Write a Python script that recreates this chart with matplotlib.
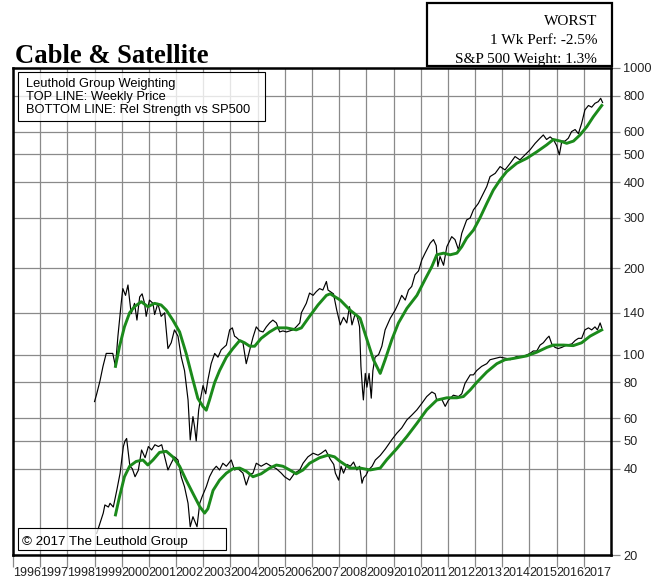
import matplotlib
matplotlib.use("Agg")
import matplotlib.pyplot as plt
from matplotlib.patches import Rectangle
from matplotlib.ticker import NullLocator, FixedLocator

# ---------------- data ----------------
price_years = [1999.00, 1999.08, 1999.20, 1999.31, 1999.43, 1999.67, 1999.77, 1999.86, 1999.98,
               2000.04, 2000.14, 2000.23, 2000.29, 2000.35, 2000.47, 2000.56, 2000.66, 2000.75,
               2000.84, 2000.90, 2001.02, 2001.15, 2001.21, 2001.33, 2001.45, 2001.58, 2001.70,
               2001.82, 2001.94, 2002.07, 2002.19, 2002.31, 2002.44, 2002.52, 2002.62, 2002.68,
               2002.74, 2002.83, 2002.89, 2002.99, 2003.09, 2003.17, 2003.29, 2003.42, 2003.54,
               2003.66, 2003.85, 2003.97, 2004.07, 2004.15, 2004.21, 2004.34, 2004.46, 2004.58,
               2004.71, 2004.83, 2004.95, 2005.07, 2005.20, 2005.32, 2005.44, 2005.56, 2005.69,
               2005.81, 2005.93, 2006.06, 2006.18, 2006.30, 2006.42, 2006.55, 2006.61, 2006.79,
               2006.91, 2007.04, 2007.16, 2007.28, 2007.40, 2007.53, 2007.59, 2007.67, 2007.79,
               2007.91, 2008.04, 2008.16, 2008.28, 2008.38, 2008.47, 2008.59, 2008.67, 2008.75,
               2008.80, 2008.86, 2008.89, 2008.96, 2009.02, 2009.10, 2009.18, 2009.24, 2009.32,
               2009.45, 2009.57, 2009.69, 2009.88, 2010.06, 2010.18, 2010.30, 2010.43, 2010.55,
               2010.67, 2010.79, 2010.92, 2011.04, 2011.16, 2011.35, 2011.47, 2011.57, 2011.63,
               2011.71, 2011.84, 2011.96, 2012.14, 2012.26, 2012.39, 2012.51, 2012.69, 2012.82,
               2012.94, 2013.12, 2013.31, 2013.43, 2013.55, 2013.74, 2013.92, 2014.10, 2014.29,
               2014.47, 2014.65, 2014.84, 2015.02, 2015.21, 2015.39, 2015.51, 2015.63, 2015.76,
               2015.88, 2016.00, 2016.10, 2016.19, 2016.31, 2016.43, 2016.55, 2016.68, 2016.80,
               2016.92, 2017.04, 2017.17, 2017.29, 2017.41, 2017.53, 2017.62, 2017.69]
price = [68.6, 73, 81, 91, 101, 101, 91, 116, 151,
         170, 161, 175, 155, 139, 151, 132, 159, 163,
         151, 136, 155, 151, 138, 151, 136, 140, 105,
         110, 122, 116, 98, 88, 69.5, 50.4, 60.8, 56,
         50, 64, 69.5, 78, 73, 81.6, 93, 101, 98,
         104, 108, 122, 124, 116, 115, 112, 110, 93,
         104, 115, 125, 121, 120, 125, 129, 132, 129,
         120, 121, 120, 121, 122, 125, 129, 140, 151,
         164, 161, 166, 170, 168, 180, 168, 166, 163,
         143, 127, 135, 129, 147, 127, 139, 135, 125,
         91, 75, 69.5, 86, 77, 86, 70.5, 88, 98,
         100, 107, 122, 134, 143, 151, 161, 155, 168,
         173, 190, 196, 214, 226, 245, 252, 240, 203,
         220, 205, 238, 258, 252, 232, 265, 295, 300,
         320, 337, 366, 386, 418, 429, 453, 441, 465,
         491, 478, 498, 518, 546, 569, 584, 563, 575,
         563, 536, 498, 556, 556, 569, 600, 610, 590,
         641, 714, 740, 730, 753, 763, 784, 758]

price_ma_years = [1999.77, 1999.92, 2000.10, 2000.29, 2000.47, 2000.72, 2000.96, 2001.21, 2001.45,
                  2001.64, 2001.88, 2002.13, 2002.37, 2002.62, 2002.80, 2002.99, 2003.11, 2003.23,
                  2003.42, 2003.60, 2003.85, 2004.09, 2004.34, 2004.52, 2004.71, 2004.89, 2005.13,
                  2005.44, 2005.69, 2006.06, 2006.42, 2006.61, 2006.91, 2007.22, 2007.53, 2007.67,
                  2008.04, 2008.40, 2008.77, 2009.02, 2009.26, 2009.51, 2009.69, 2009.94, 2010.18,
                  2010.49, 2010.86, 2011.16, 2011.41, 2011.59, 2011.84, 2012.08, 2012.33, 2012.51,
                  2012.69, 2012.94, 2013.18, 2013.43, 2013.67, 2013.92, 2014.16, 2014.53, 2014.90,
                  2015.27, 2015.63, 2015.88, 2016.13, 2016.37, 2016.62, 2016.86, 2017.11, 2017.35,
                  2017.66]
price_ma = [91, 107, 125, 140, 147, 153, 147, 151, 149,
            143, 132, 120, 101, 81.6, 70.4, 65.9, 64, 69.5,
            80, 88, 98, 105, 112, 110, 107, 107, 114,
            120, 124, 124, 122, 124, 136, 149, 161, 163,
            155, 143, 134, 113, 96, 86, 96, 113, 129,
            145, 161, 183, 203, 223, 226, 223, 226, 238,
            255, 272, 300, 337, 375, 407, 435, 465, 484,
            510, 539, 563, 556, 546, 556, 584, 624, 676,
            740]

rs_years = [1999.08, 1999.20, 1999.32, 1999.38, 1999.51, 1999.57, 1999.69, 1999.82, 1999.94,
            2000.00, 2000.06, 2000.12, 2000.18, 2000.24, 2000.30, 2000.39, 2000.49, 2000.61,
            2000.73, 2000.86, 2000.98, 2001.10, 2001.22, 2001.35, 2001.47, 2001.58, 2001.70,
            2001.82, 2001.94, 2002.07, 2002.19, 2002.31, 2002.44, 2002.52, 2002.62, 2002.71,
            2002.77, 2002.87, 2002.96, 2003.11, 2003.23, 2003.36, 2003.48, 2003.60, 2003.72,
            2003.85, 2004.03, 2004.15, 2004.28, 2004.46, 2004.58, 2004.71, 2004.83, 2004.95,
            2005.13, 2005.32, 2005.50, 2005.69, 2005.87, 2005.99, 2006.18, 2006.36, 2006.55,
            2006.67, 2006.85, 2007.04, 2007.22, 2007.34, 2007.50, 2007.67, 2007.80, 2007.86,
            2007.98, 2008.07, 2008.16, 2008.29, 2008.41, 2008.53, 2008.65, 2008.75, 2008.84,
            2008.90, 2008.99, 2009.08, 2009.21, 2009.33, 2009.51, 2009.70, 2009.93, 2010.12,
            2010.30, 2010.49, 2010.67, 2010.86, 2011.04, 2011.22, 2011.41, 2011.53, 2011.59,
            2011.77, 2011.90, 2012.02, 2012.20, 2012.39, 2012.51, 2012.63, 2012.82, 2012.94,
            2013.06, 2013.24, 2013.43, 2013.55, 2013.74, 2013.92, 2014.16, 2014.29, 2014.53,
            2014.77, 2015.02, 2015.14, 2015.27, 2015.39, 2015.51, 2015.64, 2015.72, 2015.82,
            2015.94, 2016.06, 2016.19, 2016.37, 2016.56, 2016.68, 2016.80, 2016.92, 2017.04,
            2017.17, 2017.29, 2017.41, 2017.50, 2017.60, 2017.66]
rs = [23.8, 25.8, 28, 29.9, 29.4, 30.3, 29.4, 33.7, 38.6,
      42.9, 47.8, 50, 51, 45.5, 40.8, 40, 37.5, 39.5,
      46.5, 43.7, 47.8, 46.5, 48.5, 47.8, 48.5, 44, 39.6,
      41.8, 44, 42.9, 37.5, 34.6, 30.3, 25.1, 27.2, 25.9,
      25.1, 30.3, 32, 34.6, 37.5, 39.6, 40.8, 39.6, 41.8,
      40.8, 42.9, 39.6, 40, 38.6, 35.1, 38.2, 38.6, 41.8,
      40.8, 41.8, 40.8, 40, 38.6, 37.5, 36.5, 38.6, 39.6,
      41.8, 44, 45.3, 44.6, 45.3, 46.5, 43.2, 41.4, 38.6,
      36.5, 40.8, 38.6, 41.4, 40.8, 42.2, 39.6, 40.8, 35.6,
      37.2, 38, 39.6, 40.8, 42.9, 44.5, 46.9, 50.4, 53.2,
      55.5, 59.2, 61.5, 64.2, 67.6, 71.4, 74.1, 73, 69.4,
      70, 66, 69.4, 72.2, 71.4, 73, 79.4, 85, 85,
      88, 91, 93, 96, 97, 98, 97, 96, 98.5,
      98.5, 101, 103, 103, 108, 110, 114, 116, 109,
      106, 105, 106, 108, 109, 112, 114, 114, 122,
      124, 122, 125, 122, 129, 124]

rs_ma_years = [1999.77, 1999.92, 2000.10, 2000.29, 2000.53, 2000.78, 2000.96, 2001.15, 2001.39,
               2001.64, 2001.88, 2002.13, 2002.37, 2002.62, 2002.87, 2003.05, 2003.17, 2003.36,
               2003.60, 2003.85, 2004.09, 2004.34, 2004.58, 2004.83, 2005.13, 2005.44, 2005.69,
               2005.93, 2006.18, 2006.42, 2006.67, 2006.91, 2007.28, 2007.59, 2007.83, 2008.02,
               2008.40, 2008.77, 2009.14, 2009.51, 2009.75, 2010.12, 2010.49, 2010.86, 2011.22,
               2011.59, 2011.96, 2012.33, 2012.57, 2012.82, 2013.06, 2013.43, 2013.80, 2014.10,
               2014.41, 2014.90, 2015.27, 2015.64, 2015.88, 2016.25, 2016.61, 2016.92, 2017.23,
               2017.66]
rs_ma = [27.6, 32, 37.5, 40.8, 42.4, 42.9, 41.2, 42.9, 45.6,
         46, 44, 40.8, 36.5, 32.8, 29.5, 28, 29, 33.6,
         36.5, 38.6, 40, 40.2, 39.2, 37.5, 38.4, 40.2, 41.2,
         40.8, 39.6, 38.4, 39.6, 41.8, 43.7, 44.6, 44, 42.5,
         40.2, 40.2, 39.6, 40.2, 43, 47, 51.8, 57.6, 64.2,
         69.4, 70.7, 70.7, 71.4, 75.3, 80, 87, 93, 96,
         97, 99, 102, 106, 108, 108, 107.5, 110, 116,
         122]

y_ticks = [20, 40, 50, 60, 80, 100, 140, 200, 300, 400, 500, 600, 800, 1000]
year_labels = [str(y) for y in range(1996, 2018)]

title = "Cable & Satellite"
info_lines = ["WORST", "1 Wk Perf: -2.5%", "S&P 500 Weight: 1.3%"]
legend_lines = ["Leuthold Group Weighting", "TOP LINE: Weekly Price",
                "BOTTOM LINE: Rel Strength vs SP500"]
copyright_text = "\u00a9 2017 The Leuthold Group"

# ---------------- figure ----------------
W, H = 653, 582
fig = plt.figure(figsize=(W / 100, H / 100), dpi=100)
fig.patch.set_facecolor("white")

def fx(px):
    return px / W

def fy(py):
    return 1 - py / H

ax_l, ax_r, ax_t, ax_b = 13, 611, 68, 555
ax = fig.add_axes([fx(ax_l), fy(ax_b), (ax_r - ax_l) / W, (ax_b - ax_t) / H])

grid_c = "#8a8a8a"
black_c = "black"
green_c = "#1b8a1b"

ax.plot(price_years, price, color=black_c, lw=0.85, zorder=3)
ax.plot(rs_years, rs, color=black_c, lw=0.85, zorder=3)
ax.plot(price_ma_years, price_ma, color=green_c, lw=2.1, zorder=4)
ax.plot(rs_ma_years, rs_ma, color=green_c, lw=2.1, zorder=4)

ax.set_yscale("log")
ax.set_ylim(20, 1000)
ax.set_xlim(1996, 2018)

ax.yaxis.tick_right()
ax.yaxis.set_major_locator(FixedLocator(y_ticks))
ax.yaxis.set_minor_locator(NullLocator())
ax.set_yticklabels([str(v) for v in y_ticks])
ax.tick_params(axis="y", which="major", length=6.5, width=0.9, color=grid_c,
               labelsize=9.2, pad=2.5, labelcolor="#222222")

ax.set_xticks(list(range(1996, 2018)))
ax.set_xticklabels([])
ax.set_xticks([y + 0.5 for y in range(1996, 2018)], minor=True)
ax.set_xticklabels(year_labels, minor=True)
ax.tick_params(axis="x", which="major", length=8.6, width=0.9, color=grid_c)
ax.tick_params(axis="x", which="minor", length=0, pad=9.0, labelsize=9.0,
               labelcolor="#222222")

ax.grid(True, which="major", axis="both", color=grid_c, lw=0.9, zorder=1)
ax.set_axisbelow(True)
for s in ax.spines.values():
    s.set_linewidth(1.8)
    s.set_color("black")

for lbl in ax.get_xticklabels(minor=True) + ax.get_yticklabels():
    lbl.set_fontfamily("Liberation Sans")

# title
fig.text(fx(15), fy(63), title, fontfamily="Liberation Serif", fontweight="bold",
         fontsize=19.2, va="baseline", ha="left")

# top-right info box
fig.add_artist(Rectangle((fx(427), fy(66)), (612 - 427) / W, (66 - 3) / H,
                         transform=fig.transFigure, facecolor="white",
                         edgecolor="black", lw=1.6, zorder=5))
for line, base in zip(info_lines, [25, 44, 62.5]):
    fig.text(fx(597), fy(base), line, fontfamily="Liberation Serif", fontsize=11,
             ha="right", va="baseline", zorder=6)

# legend box
fig.add_artist(Rectangle((fx(18), fy(121)), (265 - 18) / W, (121 - 72) / H,
                         transform=fig.transFigure, facecolor=(1, 1, 1, 0.78),
                         edgecolor="black", lw=0.8, zorder=5))
for line, base in zip(legend_lines, [87, 100, 113]):
    fig.text(fx(26), fy(base), line, fontfamily="Liberation Sans", fontsize=9.3,
             ha="left", va="baseline", zorder=6)

# copyright box
fig.add_artist(Rectangle((fx(18), fy(550)), (226 - 18) / W, (550 - 528) / H,
                         transform=fig.transFigure, facecolor=(1, 1, 1, 0.78),
                         edgecolor="black", lw=0.8, zorder=5))
fig.text(fx(22), fy(545.5), copyright_text, fontfamily="Liberation Sans", fontsize=9.6,
         ha="left", va="baseline", zorder=6)

fig.savefig("out.png", dpi=100, facecolor="white")
